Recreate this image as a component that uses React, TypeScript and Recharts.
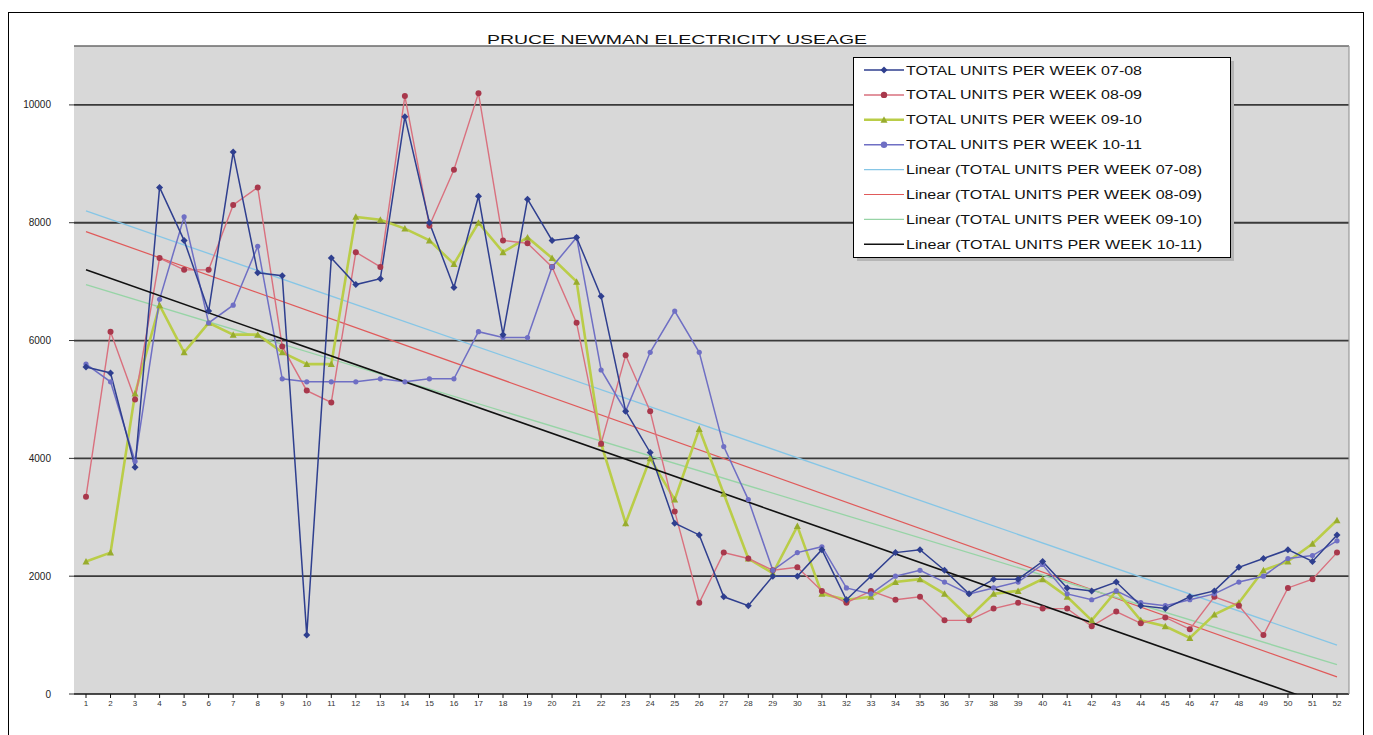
import React from "react";
import {
  LineChart,
  Line,
  XAxis,
  YAxis,
  CartesianGrid,
  ReferenceLine,
} from "recharts";

const weeks = [
  "1", "2", "3", "4", "5", "6", "7", "8", "9", "10", "11", "12", "13",
  "14", "15", "16", "17", "18", "19", "20", "21", "22", "23", "24", "25", "26",
  "27", "28", "29", "30", "31", "32", "33", "34", "35", "36", "37", "38", "39",
  "40", "41", "42", "43", "44", "45", "46", "47", "48", "49", "50", "51", "52",
];

const units0708 = [
  5550, 5450, 3850, 8600, 7700, 6500, 9200, 7150, 7100, 1000, 7400, 6950, 7050,
  9800, 8000, 6900, 8450, 6100, 8400, 7700, 7750, 6750, 4800, 4100, 2900, 2700,
  1650, 1500, 2000, 2000, 2450, 1600, 2000, 2400, 2450, 2100, 1700, 1950, 1950,
  2250, 1800, 1750, 1900, 1500, 1450, 1650, 1750, 2150, 2300, 2450, 2250, 2700,
];
const units0809 = [
  3350, 6150, 5000, 7400, 7200, 7200, 8300, 8600, 5900, 5150, 4950, 7500, 7250,
  10150, 7950, 8900, 10200, 7700, 7650, 7250, 6300, 4250, 5750, 4800, 3100, 1550,
  2400, 2300, 2100, 2150, 1750, 1550, 1750, 1600, 1650, 1250, 1250, 1450, 1550,
  1450, 1450, 1150, 1400, 1200, 1300, 1100, 1650, 1500, 1000, 1800, 1950, 2400,
];
const units0910 = [
  2250, 2400, 5100, 6600, 5800, 6300, 6100, 6100, 5800, 5600, 5600, 8100, 8050,
  7900, 7700, 7300, 8000, 7500, 7750, 7400, 7000, 4250, 2900, 4000, 3300, 4500,
  3400, 2300, 2050, 2850, 1700, 1600, 1650, 1900, 1950, 1700, 1300, 1700, 1750,
  1950, 1650, 1250, 1750, 1250, 1150, 950, 1350, 1550, 2100, 2250, 2550, 2950,
];
const units1011 = [
  5600, 5300, 3950, 6700, 8100, 6300, 6600, 7600, 5350, 5300, 5300, 5300, 5350,
  5300, 5350, 5350, 6150, 6050, 6050, 7250, 7750, 5500, 4800, 5800, 6500, 5800,
  4200, 3300, 2100, 2400, 2500, 1800, 1700, 2000, 2100, 1900, 1700, 1800, 1900,
  2200, 1700, 1600, 1750, 1550, 1500, 1600, 1700, 1900, 2000, 2300, 2350, 2600,
];

// linear trendlines: value at week 1, value at week 52
const trend0708 = [8200, 830];
const trend0809 = [7850, 290];
const trend0910 = [6950, 500];
const trend1011 = [7200, -250];

const yTicks = [0, 2000, 4000, 6000, 8000, 10000];

const seriesNames = [
  "TOTAL UNITS PER WEEK 07-08",
  "TOTAL UNITS PER WEEK 08-09",
  "TOTAL UNITS PER WEEK 09-10",
  "TOTAL UNITS PER WEEK 10-11",
];

const data = weeks.map((w, i) => ({
  week: w,
  s0708: units0708[i],
  s0809: units0809[i],
  s0910: units0910[i],
  s1011: units1011[i],
}));

const FONT = "'Liberation Sans', Arial, sans-serif";

const C0708 = "#2F3F8F";
const C0809 = "#D9707E";
const C0910 = "#BACD48";
const C1011 = "#6F6FC4";
const T0708 = "#86C6E6";
const T0809 = "#E05A5A";
const T0910 = "#97D4A6";
const T1011 = "#111111";

function diamond(color: string) {
  return (p: any) => {
    const { cx, cy, key } = p;
    if (cx == null || cy == null) return <g key={key} />;
    return (
      <path
        key={key}
        d={`M${cx},${cy - 3.5}L${cx + 3.5},${cy}L${cx},${cy + 3.5}L${cx - 3.5},${cy}Z`}
        fill={color}
      />
    );
  };
}

function triangle(color: string) {
  return (p: any) => {
    const { cx, cy, key } = p;
    if (cx == null || cy == null) return <g key={key} />;
    return (
      <path
        key={key}
        d={`M${cx},${cy - 3.5}L${cx + 3.5},${cy + 3}L${cx - 3.5},${cy + 3}Z`}
        fill={color}
      />
    );
  };
}

const legendRows = [
  { label: seriesNames[0], color: C0708, width: 1.5, marker: "diamond", mcolor: C0708 },
  { label: seriesNames[1], color: C0809, width: 1.5, marker: "circle", mcolor: "#A8384C" },
  { label: seriesNames[2], color: C0910, width: 2.5, marker: "triangle", mcolor: "#98AC2E" },
  { label: seriesNames[3], color: C1011, width: 1.5, marker: "circle", mcolor: C1011 },
  { label: `Linear (${seriesNames[0]})`, color: T0708, width: 1.2 },
  { label: `Linear (${seriesNames[1]})`, color: T0809, width: 1.2 },
  { label: `Linear (${seriesNames[2]})`, color: T0910, width: 1.2 },
  { label: `Linear (${seriesNames[3]})`, color: T1011, width: 1.5 },
];

function Overlay() {
  const top = 70;
  const step = 24.9;
  return (
    <svg
      width={1373}
      height={735}
      style={{ position: "absolute", left: 0, top: 0, pointerEvents: "none" }}
    >
      <rect x={8.5} y={12.5} width={1355} height={740} fill="none" stroke="#000" />
      {/* plot area frame: top and right edges */}
      <line x1={74} x2={1349} y1={46} y2={46} stroke="#6a6a6a" strokeWidth={1.5} />
      <line x1={1349} x2={1349} y1={46} y2={694} stroke="#9a9a9a" strokeWidth={1.2} />
      <text
        x={677}
        y={44}
        textAnchor="middle"
        fontFamily={FONT}
        fontSize={13}
        fill="#111"
        textLength={380}
        lengthAdjust="spacingAndGlyphs"
      >
        PRUCE NEWMAN ELECTRICITY USEAGE
      </text>

      <rect x={857} y={61} width={377} height={200} fill="#b5b5b5" />
      <rect x={853.5} y={57.5} width={377} height={200} fill="#fff" stroke="#000" />
      {legendRows.map((r, i) => {
        const y = top + i * step;
        const isLinear = i >= 4;
        return (
          <g key={r.label}>
            <line x1={864} x2={904} y1={y} y2={y} stroke={r.color} strokeWidth={r.width} />
            {r.marker === "diamond" && (
              <path d={`M884,${y - 3.5}L887.5,${y}L884,${y + 3.5}L880.5,${y}Z`} fill={r.mcolor} />
            )}
            {r.marker === "circle" && <circle cx={884} cy={y} r={3.2} fill={r.mcolor} />}
            {r.marker === "triangle" && (
              <path d={`M884,${y - 3.5}L887.5,${y + 3}L880.5,${y + 3}Z`} fill={r.mcolor} />
            )}
            <text
              x={906}
              y={y + 4.5}
              fontFamily={FONT}
              fontSize={12}
              fill="#111"
              textLength={isLinear ? 296 : 236}
              lengthAdjust="spacingAndGlyphs"
            >
              {r.label}
            </text>
          </g>
        );
      })}
    </svg>
  );
}

export default function App() {
  return (
    <div
      style={{
        position: "absolute",
        left: 0,
        top: 0,
        width: 1373,
        height: 735,
        background: "#fff",
        overflow: "hidden",
      }}
    >
      <LineChart
        width={1373}
        height={735}
        data={data}
        margin={{ top: 46, right: 24, bottom: 11, left: 14 }}
      >
        <CartesianGrid
          vertical={false}
          horizontal
          fill="#D8D8D8"
          stroke="#3a3a3a"
          strokeWidth={1.8}
          horizontalValues={[2000, 4000, 6000, 8000, 10000]}
        />
        <XAxis
          dataKey="week"
          interval={0}
          padding={{ left: 12, right: 12 }}
          height={30}
          axisLine={{ stroke: "#111", strokeWidth: 1.5 }}
          tickLine={{ stroke: "#111" }}
          tickSize={4}
          tick={{ fontSize: 8, fill: "#333", fontFamily: FONT }}
        />
        <YAxis
          width={60}
          domain={[0, 11000]}
          ticks={yTicks}
          interval={0}
          axisLine={false}
          tickLine={{ stroke: "#333" }}
          tickSize={5}
          tickMargin={18}
          tick={{ fontSize: 10, fill: "#222", fontFamily: FONT }}
        />

        <ReferenceLine
          segment={[{ x: weeks[0], y: trend0708[0] }, { x: weeks[51], y: trend0708[1] }]}
          stroke={T0708}
          strokeWidth={1.3}
          ifOverflow="hidden"
        />
        <ReferenceLine
          segment={[{ x: weeks[0], y: trend0809[0] }, { x: weeks[51], y: trend0809[1] }]}
          stroke={T0809}
          strokeWidth={1.2}
          ifOverflow="hidden"
        />
        <ReferenceLine
          segment={[{ x: weeks[0], y: trend0910[0] }, { x: weeks[51], y: trend0910[1] }]}
          stroke={T0910}
          strokeWidth={1.3}
          ifOverflow="hidden"
        />

        <Line
          dataKey="s0910"
          name={seriesNames[2]}
          stroke={C0910}
          strokeWidth={2.6}
          dot={triangle("#98AC2E")}
          isAnimationActive={false}
        />
        <Line
          dataKey="s0809"
          name={seriesNames[1]}
          stroke={C0809}
          strokeWidth={1.4}
          dot={{ r: 3, fill: "#A8384C", stroke: "none" }}
          isAnimationActive={false}
        />
        <Line
          dataKey="s1011"
          name={seriesNames[3]}
          stroke={C1011}
          strokeWidth={1.5}
          dot={{ r: 2.6, fill: C1011, stroke: "none" }}
          isAnimationActive={false}
        />
        <Line
          dataKey="s0708"
          name={seriesNames[0]}
          stroke={C0708}
          strokeWidth={1.5}
          dot={diamond(C0708)}
          isAnimationActive={false}
        />

        <ReferenceLine
          segment={[{ x: weeks[0], y: trend1011[0] }, { x: weeks[51], y: trend1011[1] }]}
          stroke={T1011}
          strokeWidth={1.6}
          ifOverflow="hidden"
        />
      </LineChart>
      <Overlay />
    </div>
  );
}
